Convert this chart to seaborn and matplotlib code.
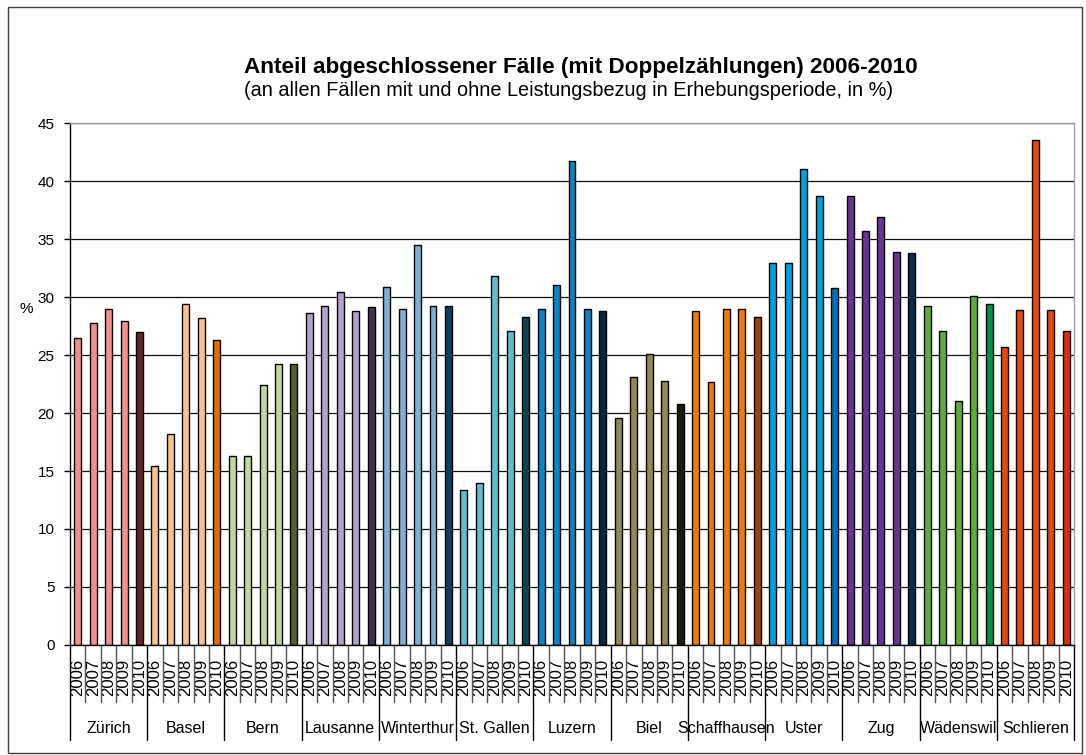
import matplotlib
matplotlib.use("Agg")
import matplotlib.pyplot as plt
import matplotlib.transforms as mtransforms
from matplotlib.patches import Rectangle
import seaborn as sns
import pandas as pd

# ---------------- data ----------------
cities = ["Zürich", "Basel", "Bern", "Lausanne", "Winterthur", "St. Gallen", "Luzern",
          "Biel", "Schaffhausen", "Uster", "Zug", "Wädenswil", "Schlieren"]
years = ["2006", "2007", "2008", "2009", "2010"]

zuerich = [26.5, 27.8, 29.0, 27.9, 27.0]
basel = [15.4, 18.2, 29.4, 28.2, 26.3]
bern = [16.3, 16.3, 22.4, 24.2, 24.2]
lausanne = [28.6, 29.2, 30.4, 28.8, 29.1]
winterthur = [30.9, 29.0, 34.5, 29.2, 29.2]
stgallen = [13.4, 14.0, 31.8, 27.1, 28.3]
luzern = [29.0, 31.0, 41.7, 29.0, 28.8]
biel = [19.6, 23.1, 25.1, 22.8, 20.8]
schaffhausen = [28.8, 22.7, 29.0, 29.0, 28.3]
uster = [32.9, 32.9, 41.0, 38.7, 30.8]
zug = [38.7, 35.7, 36.9, 33.9, 33.8]
waedenswil = [29.2, 27.1, 21.0, 30.1, 29.4]
schlieren = [25.7, 28.9, 43.5, 28.9, 27.1]

values_by_city = [zuerich, basel, bern, lausanne, winterthur, stgallen, luzern,
                  biel, schaffhausen, uster, zug, waedenswil, schlieren]

# colour of 2006-2009 bars and of 2010 bar per city
light_colors = ["#F2908E", "#FAC090", "#C3D69B", "#B3A2C7", "#7EB0D6", "#5BBFCF", "#0A85C8",
                "#938953", "#F07D00", "#00A2DB", "#6B3393", "#5CAD3C", "#E8470E"]
dark_colors = ["#632523", "#E46C0A", "#4F6228", "#3F3151", "#0F3F5E", "#0B4650", "#002A40",
               "#1D1B10", "#A0430A", "#0070B8", "#0C2A4E", "#00914A", "#E02A10"]

title = "Anteil abgeschlossener Fälle (mit Doppelzählungen) 2006-2010"
subtitle = "(an allen Fällen mit und ohne Leistungsbezug in Erhebungsperiode, in %)"

# ---------------- table ----------------
rows = []
palette = {}
for c, city in enumerate(cities):
    for y, year in enumerate(years):
        key = f"{city}|{year}"
        rows.append({"key": key, "city": city, "year": year, "value": values_by_city[c][y]})
        palette[key] = dark_colors[c] if year == "2010" else light_colors[c]
df = pd.DataFrame(rows)
order = list(df["key"])

# ---------------- plot ----------------
sns.set_theme(style="white")
plt.rcParams["font.family"] = ["Liberation Sans", "DejaVu Sans"]
for k in ["text.color", "axes.labelcolor", "xtick.color", "ytick.color"]:
    plt.rcParams[k] = "black"

W, H = 1086, 755
fig = plt.figure(figsize=(W / 100, H / 100), dpi=100)
ax = fig.add_axes([70 / W, 1 - 645 / H, (1074 - 70) / W, (645 - 123) / H])

sns.barplot(data=df, x="key", y="value", hue="key", order=order, hue_order=order,
            palette=palette, legend=False, width=0.45, saturation=1,
            edgecolor="black", linewidth=1.0, ax=ax)

ax.set_ylim(0, 45)
ax.set_xlim(-0.5, len(order) - 0.5)
ax.set_yticks(range(0, 46, 5))
ax.set_yticklabels([str(v) for v in range(0, 46, 5)], fontsize=11)
ax.yaxis.grid(True, color="#101010", linewidth=0.9)
ax.set_axisbelow(True)

ax.tick_params(axis="y", which="both", left=True, length=4, width=1, color="black", pad=7)
ax.set_xticks(range(len(order)))
ax.set_xticklabels(list(df["year"]), rotation=90, fontsize=12)
ax.tick_params(axis="x", length=0, pad=10)

for side in ["left", "bottom"]:
    ax.spines[side].set_color("black")
    ax.spines[side].set_linewidth(1)
for side in ["top", "right"]:
    ax.spines[side].set_color("#A0A0A0")
    ax.spines[side].set_linewidth(1)

ax.set_xlabel("")
ax.set_ylabel("%", rotation=0, fontsize=11)
ax.yaxis.set_label_coords(-44 / (1074 - 70), (645 - 316) / (645 - 123))

# category separators below axis
trans = mtransforms.blended_transform_factory(ax.transData, ax.transAxes)
n = len(order)
ah = 645 - 123
for i in range(n + 1):
    x = i - 0.5
    if i % len(years) == 0:
        ax.plot([x, x], [0, -95 / ah], transform=trans, clip_on=False, color="black", lw=1)
    else:
        ax.plot([x, x], [0, -57 / ah], transform=trans, clip_on=False, color="#555555", lw=1)

for c, city in enumerate(cities):
    xc = c * len(years) + (len(years) - 1) / 2
    ax.text(xc, -(733 - 645) / ah, city, transform=trans, ha="center", va="baseline",
            fontsize=11.5)

# titles
fig.text(581 / W, 1 - 68 / H, title, ha="center", va="center", fontsize=16.2, fontweight="bold")
fig.text(569 / W, 1 - 91 / H, subtitle, ha="center", va="center", fontsize=14.3)

# outer frame
fig.patches.append(Rectangle((8 / W, 1 - 753 / H), (1082 - 8) / W, (753 - 7) / H,
                             transform=fig.transFigure, fill=False, edgecolor="#404040", lw=1))

fig.savefig("out.png", dpi=100)
